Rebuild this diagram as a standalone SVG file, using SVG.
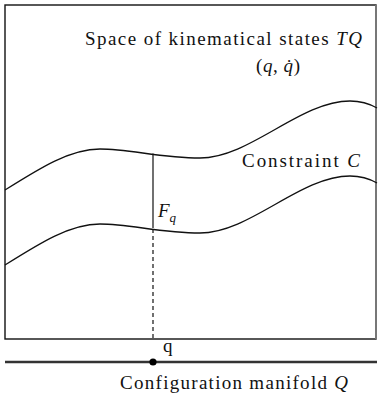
<svg xmlns="http://www.w3.org/2000/svg" width="382" height="396" viewBox="0 0 382 396">
<style>
text{font-family:"Liberation Serif","Times New Roman","DejaVu Serif",serif;fill:#111;font-size:19px}
.it{font-style:italic}
.curve{fill:none;stroke:#111;stroke-width:1.3}
</style>
<defs>
<path id="wave" d="M5,190 C40,168 70,149 100,149 C130,149 160,158 200,158 C250,158 300,101 350,101 C362,101 370,104 377,108"/>
</defs>
<rect width="382" height="396" fill="#fff"/>
<g id="space-TQ">
<rect x="5" y="5" width="371" height="334" fill="none" stroke="#111" stroke-width="1.4"/>
<line x1="376" y1="5" x2="376" y2="339" stroke="#777" stroke-width="2"/>
<text x="85" y="45" textLength="277" lengthAdjust="spacing">Space of kinematical states <tspan class="it">TQ</tspan></text>
<text x="256" y="72" textLength="44" lengthAdjust="spacing">(<tspan class="it">q</tspan>, <tspan class="it">q̇</tspan>)</text>
</g>
<g id="constraint-C">
<use href="#wave" class="curve"/>
<use href="#wave" class="curve" transform="translate(0,75)"/>
<text x="242" y="167" textLength="118" lengthAdjust="spacing">Constraint <tspan class="it">C</tspan></text>
</g>
<g id="connectors">
<line x1="153" y1="153.5" x2="153" y2="228" stroke="#111" stroke-width="1.2"/>
<line x1="153" y1="229" x2="153" y2="339" stroke="#111" stroke-width="1.2" stroke-dasharray="4,3"/>
</g>
<g id="fiber-Fq">
<text x="158" y="217" class="it">F<tspan font-size="13" dy="5">q</tspan></text>
</g>
<g id="manifold-Q">
<line x1="5" y1="362" x2="377" y2="362" stroke="#333" stroke-width="2.6"/>
<text x="120" y="389" textLength="228" lengthAdjust="spacing">Configuration manifold <tspan class="it">Q</tspan></text>
</g>
<g id="point-q">
<circle cx="153" cy="362" r="3.6" fill="#000"/>
<text x="163" y="352">q</text>
</g>
</svg>
